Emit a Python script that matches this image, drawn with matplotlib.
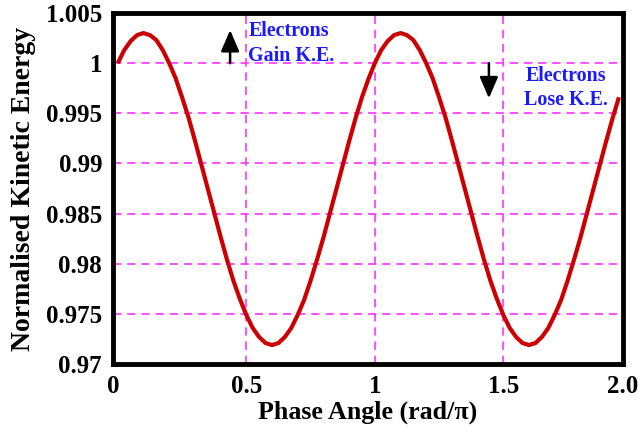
import numpy as np
import matplotlib
matplotlib.use("Agg")
import matplotlib.pyplot as plt

# phase angle (rad/pi), read every 0.025
phase = np.round(np.arange(0, 1.951, 0.025), 3)

# normalised kinetic energy
ke = [
    1.0000, 1.0013, 1.0022, 1.0028, 1.0030, 1.0028, 1.0023, 1.0013,
    1.0000, 0.9985, 0.9966, 0.9946, 0.9923, 0.9899, 0.9875, 0.9851,
    0.9827, 0.9804, 0.9783, 0.9765, 0.9749, 0.9736, 0.9727, 0.9721,
    0.9719, 0.9721, 0.9727, 0.9736, 0.9749, 0.9764, 0.9783, 0.9804,
    0.9826, 0.9850, 0.9874, 0.9898, 0.9922, 0.9945, 0.9966, 0.9984,
    1.0000, 1.0013, 1.0022, 1.0028, 1.0030, 1.0028, 1.0023, 1.0013,
    1.0000, 0.9985, 0.9966, 0.9946, 0.9923, 0.9899, 0.9875, 0.9851,
    0.9827, 0.9804, 0.9783, 0.9765, 0.9749, 0.9736, 0.9727, 0.9721,
    0.9719, 0.9721, 0.9727, 0.9736, 0.9749, 0.9764, 0.9783, 0.9804,
    0.9826, 0.9850, 0.9874, 0.9898, 0.9922, 0.9945, 0.9966,
]

x_lim = (-0.018, 1.966)
x_ticks = [x_lim[0], 0.5, 1.0, 1.5, x_lim[1]]
x_ticklabels = ["0", "0.5", "1", "1.5", "2.0"]
y_ticks = [0.97, 0.975, 0.98, 0.985, 0.99, 0.995, 1.0, 1.005]
y_ticklabels = ["0.97", "0.975", "0.98", "0.985", "0.99", "0.995", "1", "1.005"]

plt.rcParams["font.family"] = ["Liberation Serif", "DejaVu Serif"]
plt.rcParams["font.weight"] = "bold"

fig = plt.figure(figsize=(6.43, 4.34), dpi=100)
ax = fig.add_axes([0.176, 0.161, 0.793, 0.809])

ax.plot(phase, ke, color="#cc0000", lw=3, solid_capstyle="butt", zorder=3)

ax.set_xlim(*x_lim)
ax.set_ylim(0.97, 1.005)
ax.set_xticks(x_ticks)
ax.set_xticklabels(x_ticklabels)
ax.set_yticks(y_ticks)
ax.set_yticklabels(y_ticklabels)
ax.tick_params(length=0, labelsize=18, pad=8)
for lab in ax.get_xticklabels() + ax.get_yticklabels():
    lab.set_fontweight("bold")

grid_kw = dict(color="#ff33ff", lw=1.2, ls=(0, (5, 3.5)), zorder=1)
for xv in [0.5, 1.0, 1.5]:
    ax.axvline(xv, **grid_kw)
for yv in y_ticks[1:-1]:
    ax.axhline(yv, **grid_kw)

for s in ax.spines.values():
    s.set_linewidth(3.5)
    s.set_color("black")

ax.set_xlabel("Phase Angle (rad/\u03c0)", fontsize=18.7, fontweight="bold", labelpad=2)
ax.set_ylabel("Normalised Kinetic Energy", fontsize=20, fontweight="bold", labelpad=7)

# electron energy annotations
arrow_kw = dict(arrowstyle="-|>,head_length=0.65,head_width=0.28", color="black",
                lw=1.8, mutation_scale=20, shrinkA=0, shrinkB=0)
ax.annotate("", xy=(0.437, 1.0033), xytext=(0.437, 1.0000), arrowprops=arrow_kw)
ax.annotate("", xy=(1.444, 0.9965), xytext=(1.444, 1.0000), arrowprops=arrow_kw)
ax.text(0.508, 1.00195, "Electrons\nGain K.E.", color="#1a1aff", fontsize=14.4,
        fontweight="bold", ha="left", va="center", linespacing=1.3)
ax.text(1.745, 0.99755, "Electrons\nLose K.E.", color="#1a1aff", fontsize=14.4,
        fontweight="bold", ha="center", va="center", linespacing=1.3)

fig.savefig("out.png", dpi=100)
